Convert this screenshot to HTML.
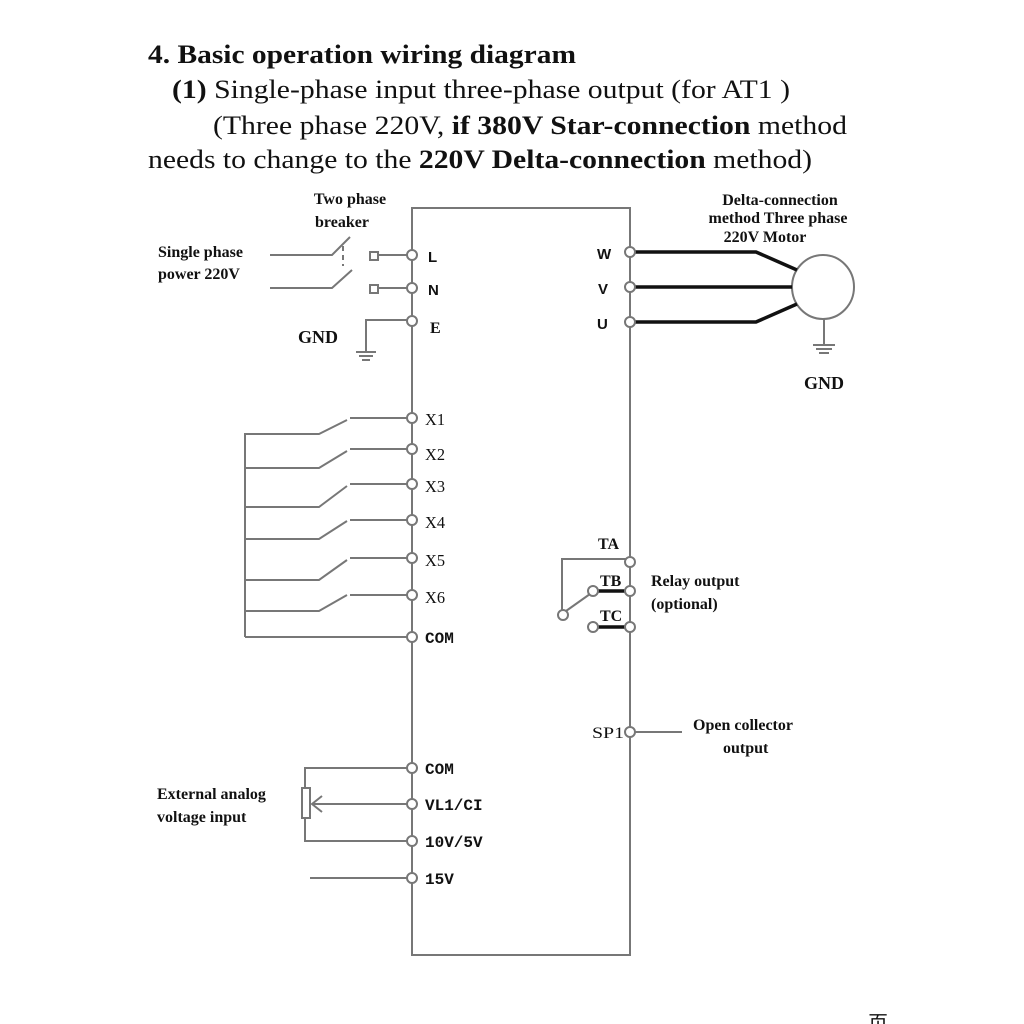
<!DOCTYPE html>
<html><head><meta charset="utf-8"><style>
html,body{margin:0;padding:0;background:#fff;width:1024px;height:1024px;overflow:hidden}
svg{display:block}
.s{font-family:"Liberation Serif",serif;fill:#111}
.b{font-weight:bold}
.sb{font-family:"Liberation Sans",sans-serif;font-weight:bold;fill:#111}
.m{font-family:"Liberation Mono",monospace;font-weight:bold;fill:#111}
</style></head><body>
<svg width="1024" height="1024" viewBox="0 0 1024 1024" xmlns="http://www.w3.org/2000/svg">
<g class="s" font-size="26">
<text x="148" y="63" class="b" textLength="428" lengthAdjust="spacingAndGlyphs">4. Basic operation  wiring  diagram</text>
<text x="172" y="98" textLength="618" lengthAdjust="spacingAndGlyphs"><tspan class="b">(1)</tspan> Single-phase  input three-phase  output (for AT1  )</text>
<text x="213" y="134" textLength="634" lengthAdjust="spacingAndGlyphs">(Three  phase  220V, <tspan class="b">if 380V Star-connection</tspan>  method</text>
<text x="148" y="168" textLength="664" lengthAdjust="spacingAndGlyphs">needs  to change  to the <tspan class="b">220V Delta-connection</tspan> method)</text>
</g>
<g stroke="#777" stroke-width="2" fill="none">
<rect x="412" y="208" width="218" height="747"/>
<!-- breaker -->
<polyline points="270,255 332,255 350,237"/>
<polyline points="270,288 332,288 352,270"/>
<line x1="343" y1="246" x2="343" y2="266" stroke-dasharray="5,4"/>
<rect x="370" y="252" width="8" height="8"/>
<rect x="370" y="285" width="8" height="8"/>
<line x1="378" y1="255" x2="408" y2="255"/>
<line x1="378" y1="288" x2="408" y2="288"/>
<polyline points="408,320 366,320 366,352"/>
<line x1="356" y1="352" x2="376" y2="352"/><line x1="359" y1="356" x2="373" y2="356"/><line x1="362" y1="360" x2="370" y2="360"/>
<!-- switches -->
<line x1="245" y1="433" x2="245" y2="637"/>
<polyline points="245,434 319,434 347,420"/><line x1="350" y1="418" x2="408" y2="418"/>
<polyline points="245,468 319,468 347,451"/><line x1="350" y1="449" x2="408" y2="449"/>
<polyline points="245,507 319,507 347,486"/><line x1="350" y1="484" x2="408" y2="484"/>
<polyline points="245,539 319,539 347,521"/><line x1="350" y1="520" x2="408" y2="520"/>
<polyline points="245,580 319,580 347,560"/><line x1="350" y1="558" x2="408" y2="558"/>
<polyline points="245,611 319,611 347,595"/><line x1="350" y1="595" x2="408" y2="595"/>
<line x1="245" y1="637" x2="408" y2="637"/>
<!-- analog -->
<polyline points="408,768 305,768 305,788"/>
<rect x="302" y="788" width="8" height="30"/>
<polyline points="305,818 305,841 408,841"/>
<line x1="312" y1="804" x2="408" y2="804"/>
<polyline points="322,796 312,804 322,812"/>
<line x1="310" y1="878" x2="408" y2="878"/>
<!-- relay -->
<polyline points="626,559 562,559 562,612"/>
<line x1="566" y1="611" x2="590" y2="594"/>
<line x1="634" y1="732" x2="682" y2="732"/>
<!-- motor -->
<ellipse cx="823" cy="287" rx="31" ry="32"/>
<line x1="824" y1="319" x2="824" y2="345"/>
<line x1="813" y1="345" x2="835" y2="345"/><line x1="816" y1="349" x2="832" y2="349"/><line x1="819" y1="353" x2="829" y2="353"/>
</g>
<g stroke="#111" stroke-width="3.5" fill="none">
<polyline points="634,252 756,252 797,270"/>
<line x1="634" y1="287" x2="792" y2="287"/>
<polyline points="634,322 756,322 797,304"/>
<line x1="597" y1="591" x2="626" y2="591"/>
<line x1="597" y1="627" x2="626" y2="627"/>
</g>
<g stroke="#777" stroke-width="2" fill="#fff">
<circle cx="412" cy="255" r="5"/><circle cx="412" cy="288" r="5"/><circle cx="412" cy="321" r="5"/>
<circle cx="412" cy="418" r="5"/><circle cx="412" cy="449" r="5"/><circle cx="412" cy="484" r="5"/>
<circle cx="412" cy="520" r="5"/><circle cx="412" cy="558" r="5"/><circle cx="412" cy="595" r="5"/>
<circle cx="412" cy="637" r="5"/><circle cx="412" cy="768" r="5"/><circle cx="412" cy="804" r="5"/>
<circle cx="412" cy="841" r="5"/><circle cx="412" cy="878" r="5"/>
<circle cx="630" cy="252" r="5"/><circle cx="630" cy="287" r="5"/><circle cx="630" cy="322" r="5"/>
<circle cx="630" cy="562" r="5"/><circle cx="630" cy="591" r="5"/><circle cx="630" cy="627" r="5"/>
<circle cx="630" cy="732" r="5"/>
<circle cx="593" cy="591" r="5"/><circle cx="593" cy="627" r="5"/><circle cx="563" cy="615" r="5"/>
</g>
<g class="s b" font-size="16">
<text x="350" y="204" text-anchor="middle">Two phase</text>
<text x="342" y="227" text-anchor="middle">breaker</text>
<text x="158" y="257">Single phase</text>
<text x="158" y="279">power 220V</text>
<text x="298" y="343" font-size="18">GND</text>
<text x="780" y="205" text-anchor="middle">Delta-connection</text>
<text x="778" y="223" text-anchor="middle">method Three phase</text>
<text x="765" y="242" text-anchor="middle">220V Motor</text>
<text x="824" y="389" text-anchor="middle" font-size="18">GND</text>
<text x="598" y="549">TA</text>
<text x="600" y="586">TB</text>
<text x="600" y="621">TC</text>
<text x="651" y="586">Relay output</text>
<text x="651" y="609">(optional)</text>
<text x="693" y="730">Open collector</text>
<text x="723" y="753">output</text>
<text x="157" y="799">External analog</text>
<text x="157" y="822">voltage input</text>
</g>
<g class="sb" font-size="15">
<text x="428" y="262">L</text><text x="428" y="295">N</text>
<text x="597" y="259">W</text><text x="598" y="294">V</text><text x="597" y="329">U</text>
</g>
<text x="430" y="333" class="s b" font-size="16">E</text>
<g class="s" font-size="17">
<text x="425" y="425" textLength="20" lengthAdjust="spacingAndGlyphs">X1</text>
<text x="425" y="460" textLength="20" lengthAdjust="spacingAndGlyphs">X2</text>
<text x="425" y="492" textLength="20" lengthAdjust="spacingAndGlyphs">X3</text>
<text x="425" y="528" textLength="20" lengthAdjust="spacingAndGlyphs">X4</text>
<text x="425" y="566" textLength="20" lengthAdjust="spacingAndGlyphs">X5</text>
<text x="425" y="603" textLength="20" lengthAdjust="spacingAndGlyphs">X6</text>
<text x="592" y="738" font-size="16" textLength="32" lengthAdjust="spacingAndGlyphs">SP1</text>
</g>
<g class="m" font-size="16">
<text x="425" y="643">COM</text>
<text x="425" y="774">COM</text>
<text x="425" y="810">VL1/CI</text>
<text x="425" y="847">10V/5V</text>
<text x="425" y="884">15V</text>
</g>
<text x="868" y="1030" font-family="'Noto Sans CJK SC',sans-serif" font-size="20" fill="#111">页</text>
</svg>
</body></html>
